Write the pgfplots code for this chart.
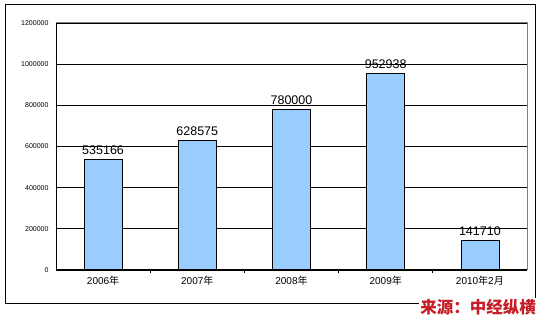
\documentclass[border=0pt]{standalone}
\usepackage{pgfplots}
\pgfplotsset{compat=1.18}
\usepackage{fontspec}
\setmainfont{Liberation Sans}
\newfontfamily\cjk{Noto Sans CJK SC}
\definecolor{barblue}{RGB}{153,204,255}
\definecolor{srcred}{RGB}{200,30,40}
\begin{document}
\begin{tikzpicture}[x=1pt,y=1pt]
\useasboundingbox (0,0) rectangle (543,320);
\draw[black, line width=1pt] (5,16) rectangle (535,315);
\begin{axis}[
  at={(56pt,50pt)}, anchor=south west,
  scale only axis, width=471pt, height=247pt,
  xmin=-0.5, xmax=4.5, ymin=0, ymax=1200000,
  ytick={0,200000,...,1200000},
  scaled y ticks=false,
  /pgf/number format/fixed, /pgf/number format/1000 sep={},
  /pgf/number format/assume math mode=true,
  yticklabel style={font=\fontsize{7}{7}\selectfont},
  y tick label style={xshift=-4pt},
  ymajorgrids, grid style={black, line width=0.8pt},
  major tick length=0pt,
  tick pos=left,
  xtick={0,1,2,3,4},
  xticklabels={2006{\cjk 年},2007{\cjk 年},2008{\cjk 年},2009{\cjk 年},2010{\cjk 年}2{\cjk 月}},
  xticklabel style={font=\fontsize{10}{10}\selectfont, yshift=-3pt},
  minor xtick={0.5,1.5,2.5,3.5},
  minor tick length=3pt, tick align=inside,
  minor tick style={black, line width=0.8pt},
  axis line style={gray, line width=1pt},
  ybar, bar width=38pt,
  point meta=explicit symbolic,
  nodes near coords,
  nodes near coords style={font=\fontsize{12.5}{12.5}\selectfont, yshift=1pt},
  clip=false,
]
\addplot[fill=barblue, draw=black, line width=0.8pt] coordinates {
  (0,535166) [535166]
  (1,628575) [628575]
  (2,780000) [780000]
  (3,952938) [952938]
  (4,141710) [141710]
};
\draw[black, line width=1pt] (rel axis cs:0,1) -- (rel axis cs:0,0) -- (rel axis cs:1,0);
\end{axis}
\node[fill=white, inner sep=1pt, text=srcred, font=\cjk\bfseries\fontsize{16.5}{16.5}\selectfont] at (478,13) {来源：中经纵横};
\end{tikzpicture}
\end{document}
